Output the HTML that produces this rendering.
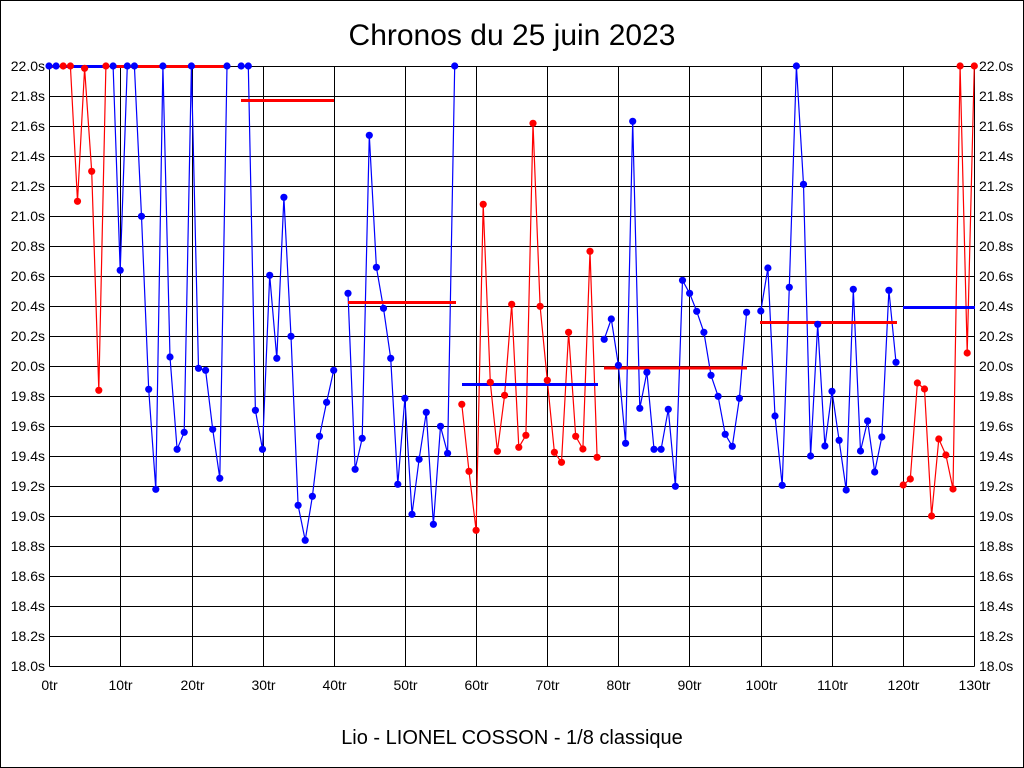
<!DOCTYPE html>
<html><head><meta charset="utf-8"><style>
html,body{margin:0;padding:0;background:#fff;}
svg{display:block;}
text{font-family:"Liberation Sans",Arial,sans-serif;fill:#000;}
</style></head><body>
<svg width="1024" height="768" viewBox="0 0 1024 768" xmlns="http://www.w3.org/2000/svg">
<rect x="0" y="0" width="1024" height="768" fill="#fff"/>
<rect x="0.5" y="0.5" width="1023" height="767" fill="none" stroke="#000" stroke-width="1"/>
<text x="512" y="45" font-size="30" text-anchor="middle">Chronos du 25 juin 2023</text>
<text x="512" y="744" font-size="20" text-anchor="middle">Lio - LIONEL COSSON - 1/8 classique</text>
<g transform="translate(0.5,0.5)" stroke="#000" stroke-width="1" shape-rendering="crispEdges">
<line x1="49" y1="66" x2="974" y2="66"/><line x1="49" y1="96" x2="974" y2="96"/><line x1="49" y1="126" x2="974" y2="126"/><line x1="49" y1="156" x2="974" y2="156"/><line x1="49" y1="186" x2="974" y2="186"/><line x1="49" y1="216" x2="974" y2="216"/><line x1="49" y1="246" x2="974" y2="246"/><line x1="49" y1="276" x2="974" y2="276"/><line x1="49" y1="306" x2="974" y2="306"/><line x1="49" y1="336" x2="974" y2="336"/><line x1="49" y1="366" x2="974" y2="366"/><line x1="49" y1="396" x2="974" y2="396"/><line x1="49" y1="426" x2="974" y2="426"/><line x1="49" y1="456" x2="974" y2="456"/><line x1="49" y1="486" x2="974" y2="486"/><line x1="49" y1="516" x2="974" y2="516"/><line x1="49" y1="546" x2="974" y2="546"/><line x1="49" y1="576" x2="974" y2="576"/><line x1="49" y1="606" x2="974" y2="606"/><line x1="49" y1="636" x2="974" y2="636"/><line x1="49" y1="666" x2="974" y2="666"/>
<line x1="49" y1="66" x2="49" y2="666"/><line x1="120" y1="66" x2="120" y2="666"/><line x1="192" y1="66" x2="192" y2="666"/><line x1="263" y1="66" x2="263" y2="666"/><line x1="334" y1="66" x2="334" y2="666"/><line x1="405" y1="66" x2="405" y2="666"/><line x1="476" y1="66" x2="476" y2="666"/><line x1="547" y1="66" x2="547" y2="666"/><line x1="618" y1="66" x2="618" y2="666"/><line x1="689" y1="66" x2="689" y2="666"/><line x1="761" y1="66" x2="761" y2="666"/><line x1="832" y1="66" x2="832" y2="666"/><line x1="903" y1="66" x2="903" y2="666"/><line x1="974" y1="66" x2="974" y2="666"/>
</g>
<g font-size="14" text-anchor="end">
<text x="45" y="71">22.0s</text><text x="45" y="101">21.8s</text><text x="45" y="131">21.6s</text><text x="45" y="161">21.4s</text><text x="45" y="191">21.2s</text><text x="45" y="221">21.0s</text><text x="45" y="251">20.8s</text><text x="45" y="281">20.6s</text><text x="45" y="311">20.4s</text><text x="45" y="341">20.2s</text><text x="45" y="371">20.0s</text><text x="45" y="401">19.8s</text><text x="45" y="431">19.6s</text><text x="45" y="461">19.4s</text><text x="45" y="491">19.2s</text><text x="45" y="521">19.0s</text><text x="45" y="551">18.8s</text><text x="45" y="581">18.6s</text><text x="45" y="611">18.4s</text><text x="45" y="641">18.2s</text><text x="45" y="671">18.0s</text>
</g>
<g font-size="14" text-anchor="start">
<text x="979" y="71">22.0s</text><text x="979" y="101">21.8s</text><text x="979" y="131">21.6s</text><text x="979" y="161">21.4s</text><text x="979" y="191">21.2s</text><text x="979" y="221">21.0s</text><text x="979" y="251">20.8s</text><text x="979" y="281">20.6s</text><text x="979" y="311">20.4s</text><text x="979" y="341">20.2s</text><text x="979" y="371">20.0s</text><text x="979" y="401">19.8s</text><text x="979" y="431">19.6s</text><text x="979" y="461">19.4s</text><text x="979" y="491">19.2s</text><text x="979" y="521">19.0s</text><text x="979" y="551">18.8s</text><text x="979" y="581">18.6s</text><text x="979" y="611">18.4s</text><text x="979" y="641">18.2s</text><text x="979" y="671">18.0s</text>
</g>
<g font-size="14" text-anchor="middle">
<text x="49.5" y="690">0tr</text><text x="120.5" y="690">10tr</text><text x="192.5" y="690">20tr</text><text x="263.5" y="690">30tr</text><text x="334.5" y="690">40tr</text><text x="405.5" y="690">50tr</text><text x="476.5" y="690">60tr</text><text x="547.5" y="690">70tr</text><text x="618.5" y="690">80tr</text><text x="689.5" y="690">90tr</text><text x="761.5" y="690">100tr</text><text x="832.5" y="690">110tr</text><text x="903.5" y="690">120tr</text><text x="974.5" y="690">130tr</text>
</g>
<g fill="none" stroke-width="1.2" stroke-linejoin="miter">
<polyline stroke="#0000ff" points="49,66 56.1,66"/>
<polyline stroke="#ff0000" points="63.2,66 70.4,66 77.5,201.3 84.6,68.3 91.7,171.3 98.8,390.3 105.9,66"/>
<polyline stroke="#0000ff" points="113.1,66 120.2,270.3 127.3,66 134.4,66 141.5,216.3 148.7,389.3 155.8,489.3 162.9,66 170,357 177.1,449.3 184.2,432.3 191.4,66 198.5,368.3 205.6,370.3 212.7,429.3 219.8,478.3 227,66"/>
<polyline stroke="#0000ff" points="241.2,66 248.3,66 255.4,410.3 262.5,449.3 269.7,275.3 276.8,358.3 283.9,197.3 291,336.3 298.1,505.3 305.2,540.3 312.4,496.3 319.5,436.3 326.6,402.3 333.7,370.3"/>
<polyline stroke="#0000ff" points="348,293.3 355.1,469.3 362.2,438.3 369.3,135.3 376.4,267.3 383.5,308.3 390.7,358.3 397.8,484.3 404.9,398.3 412,514.3 419.1,459.3 426.3,412.3 433.4,524.3 440.5,426.3 447.6,453.3 454.7,66"/>
<polyline stroke="#ff0000" points="461.8,404.3 469,471.3 476.1,530.3 483.2,204.3 490.3,382.3 497.4,451.3 504.6,395.3 511.7,304.3 518.8,447.3 525.9,435.3 533,123.3 540.1,306.3 547.3,380.3 554.4,452.3 561.5,462.3 568.6,332.3 575.7,436.3 582.9,449 590,251.3 597.1,457.3"/>
<polyline stroke="#0000ff" points="604.2,339.3 611.3,319 618.4,365.3 625.6,443.3 632.7,121.3 639.8,408.3 646.9,372.3 654,449.3 661.1,449.3 668.3,409.3 675.4,486.3 682.5,280.3 689.6,293.3 696.7,311.3 703.9,332.3 711,375.3 718.1,396.3 725.2,434.3 732.3,446.3 739.4,398.3 746.6,312.3"/>
<polyline stroke="#0000ff" points="760.8,311 767.9,268 775,416 782.2,485.3 789.3,287.3 796.4,66 803.5,184.3 810.6,456 817.7,324.3 824.9,446 832,391.3 839.1,440.3 846.2,490 853.3,289.3 860.5,451 867.6,421 874.7,472 881.8,437 888.9,290.3 896,362.3"/>
<polyline stroke="#ff0000" points="903.2,485 910.3,479 917.4,383 924.5,389 931.6,516 938.8,439 945.9,455 953,489 960.1,66 967.2,353 974.3,66"/>
</g>
<g stroke-width="3.2" shape-rendering="crispEdges">
<line stroke="#ff0000" x1="49" y1="66.5" x2="59" y2="66.5"/>
<line stroke="#0000ff" x1="62" y1="66.5" x2="107" y2="66.5"/>
<line stroke="#ff0000" x1="112" y1="66.5" x2="228" y2="66.5"/>
<line stroke="#ff0000" x1="241" y1="100.5" x2="334" y2="100.5"/>
<line stroke="#ff0000" x1="348" y1="302.5" x2="456" y2="302.5"/>
<line stroke="#0000ff" x1="462" y1="384.5" x2="598" y2="384.5"/>
<line stroke="#ff0000" x1="604" y1="368" x2="747" y2="368"/>
<line stroke="#ff0000" x1="760" y1="322.5" x2="897" y2="322.5"/>
<line stroke="#0000ff" x1="903" y1="307.5" x2="975" y2="307.5"/>
</g>
<g fill="#0000ff">
<circle cx="49" cy="66" r="3.6"/><circle cx="56.1" cy="66" r="3.6"/>
<circle cx="113.1" cy="66" r="3.6"/><circle cx="120.2" cy="270.3" r="3.6"/><circle cx="127.3" cy="66" r="3.6"/><circle cx="134.4" cy="66" r="3.6"/><circle cx="141.5" cy="216.3" r="3.6"/><circle cx="148.7" cy="389.3" r="3.6"/><circle cx="155.8" cy="489.3" r="3.6"/><circle cx="162.9" cy="66" r="3.6"/><circle cx="170" cy="357" r="3.6"/><circle cx="177.1" cy="449.3" r="3.6"/><circle cx="184.2" cy="432.3" r="3.6"/><circle cx="191.4" cy="66" r="3.6"/><circle cx="198.5" cy="368.3" r="3.6"/><circle cx="205.6" cy="370.3" r="3.6"/><circle cx="212.7" cy="429.3" r="3.6"/><circle cx="219.8" cy="478.3" r="3.6"/><circle cx="227" cy="66" r="3.6"/>
<circle cx="241.2" cy="66" r="3.6"/><circle cx="248.3" cy="66" r="3.6"/><circle cx="255.4" cy="410.3" r="3.6"/><circle cx="262.5" cy="449.3" r="3.6"/><circle cx="269.7" cy="275.3" r="3.6"/><circle cx="276.8" cy="358.3" r="3.6"/><circle cx="283.9" cy="197.3" r="3.6"/><circle cx="291" cy="336.3" r="3.6"/><circle cx="298.1" cy="505.3" r="3.6"/><circle cx="305.2" cy="540.3" r="3.6"/><circle cx="312.4" cy="496.3" r="3.6"/><circle cx="319.5" cy="436.3" r="3.6"/><circle cx="326.6" cy="402.3" r="3.6"/><circle cx="333.7" cy="370.3" r="3.6"/>
<circle cx="348" cy="293.3" r="3.6"/><circle cx="355.1" cy="469.3" r="3.6"/><circle cx="362.2" cy="438.3" r="3.6"/><circle cx="369.3" cy="135.3" r="3.6"/><circle cx="376.4" cy="267.3" r="3.6"/><circle cx="383.5" cy="308.3" r="3.6"/><circle cx="390.7" cy="358.3" r="3.6"/><circle cx="397.8" cy="484.3" r="3.6"/><circle cx="404.9" cy="398.3" r="3.6"/><circle cx="412" cy="514.3" r="3.6"/><circle cx="419.1" cy="459.3" r="3.6"/><circle cx="426.3" cy="412.3" r="3.6"/><circle cx="433.4" cy="524.3" r="3.6"/><circle cx="440.5" cy="426.3" r="3.6"/><circle cx="447.6" cy="453.3" r="3.6"/><circle cx="454.7" cy="66" r="3.6"/>
<circle cx="604.2" cy="339.3" r="3.6"/><circle cx="611.3" cy="319" r="3.6"/><circle cx="618.4" cy="365.3" r="3.6"/><circle cx="625.6" cy="443.3" r="3.6"/><circle cx="632.7" cy="121.3" r="3.6"/><circle cx="639.8" cy="408.3" r="3.6"/><circle cx="646.9" cy="372.3" r="3.6"/><circle cx="654" cy="449.3" r="3.6"/><circle cx="661.1" cy="449.3" r="3.6"/><circle cx="668.3" cy="409.3" r="3.6"/><circle cx="675.4" cy="486.3" r="3.6"/><circle cx="682.5" cy="280.3" r="3.6"/><circle cx="689.6" cy="293.3" r="3.6"/><circle cx="696.7" cy="311.3" r="3.6"/><circle cx="703.9" cy="332.3" r="3.6"/><circle cx="711" cy="375.3" r="3.6"/><circle cx="718.1" cy="396.3" r="3.6"/><circle cx="725.2" cy="434.3" r="3.6"/><circle cx="732.3" cy="446.3" r="3.6"/><circle cx="739.4" cy="398.3" r="3.6"/><circle cx="746.6" cy="312.3" r="3.6"/>
<circle cx="760.8" cy="311" r="3.6"/><circle cx="767.9" cy="268" r="3.6"/><circle cx="775" cy="416" r="3.6"/><circle cx="782.2" cy="485.3" r="3.6"/><circle cx="789.3" cy="287.3" r="3.6"/><circle cx="796.4" cy="66" r="3.6"/><circle cx="803.5" cy="184.3" r="3.6"/><circle cx="810.6" cy="456" r="3.6"/><circle cx="817.7" cy="324.3" r="3.6"/><circle cx="824.9" cy="446" r="3.6"/><circle cx="832" cy="391.3" r="3.6"/><circle cx="839.1" cy="440.3" r="3.6"/><circle cx="846.2" cy="490" r="3.6"/><circle cx="853.3" cy="289.3" r="3.6"/><circle cx="860.5" cy="451" r="3.6"/><circle cx="867.6" cy="421" r="3.6"/><circle cx="874.7" cy="472" r="3.6"/><circle cx="881.8" cy="437" r="3.6"/><circle cx="888.9" cy="290.3" r="3.6"/><circle cx="896" cy="362.3" r="3.6"/>
</g>
<g fill="#ff0000">
<circle cx="63.2" cy="66" r="3.6"/><circle cx="70.4" cy="66" r="3.6"/><circle cx="77.5" cy="201.3" r="3.6"/><circle cx="84.6" cy="68.3" r="3.6"/><circle cx="91.7" cy="171.3" r="3.6"/><circle cx="98.8" cy="390.3" r="3.6"/><circle cx="105.9" cy="66" r="3.6"/>
<circle cx="461.8" cy="404.3" r="3.6"/><circle cx="469" cy="471.3" r="3.6"/><circle cx="476.1" cy="530.3" r="3.6"/><circle cx="483.2" cy="204.3" r="3.6"/><circle cx="490.3" cy="382.3" r="3.6"/><circle cx="497.4" cy="451.3" r="3.6"/><circle cx="504.6" cy="395.3" r="3.6"/><circle cx="511.7" cy="304.3" r="3.6"/><circle cx="518.8" cy="447.3" r="3.6"/><circle cx="525.9" cy="435.3" r="3.6"/><circle cx="533" cy="123.3" r="3.6"/><circle cx="540.1" cy="306.3" r="3.6"/><circle cx="547.3" cy="380.3" r="3.6"/><circle cx="554.4" cy="452.3" r="3.6"/><circle cx="561.5" cy="462.3" r="3.6"/><circle cx="568.6" cy="332.3" r="3.6"/><circle cx="575.7" cy="436.3" r="3.6"/><circle cx="582.9" cy="449" r="3.6"/><circle cx="590" cy="251.3" r="3.6"/><circle cx="597.1" cy="457.3" r="3.6"/>
<circle cx="903.2" cy="485" r="3.6"/><circle cx="910.3" cy="479" r="3.6"/><circle cx="917.4" cy="383" r="3.6"/><circle cx="924.5" cy="389" r="3.6"/><circle cx="931.6" cy="516" r="3.6"/><circle cx="938.8" cy="439" r="3.6"/><circle cx="945.9" cy="455" r="3.6"/><circle cx="953" cy="489" r="3.6"/><circle cx="960.1" cy="66" r="3.6"/><circle cx="967.2" cy="353" r="3.6"/><circle cx="974.3" cy="66" r="3.6"/>
</g>
</svg>
</body></html>
